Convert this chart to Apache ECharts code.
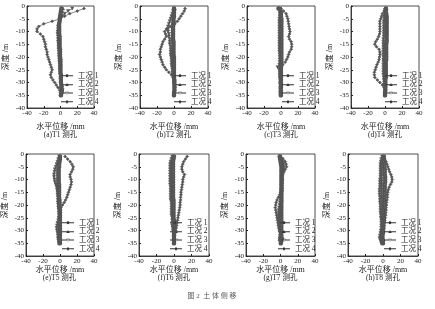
<!DOCTYPE html>
<html><head><meta charset="utf-8">
<script src="https://cdn.jsdelivr.net/npm/echarts@6/dist/echarts.min.js"></script>
<style>html,body{margin:0;padding:0;background:#fff}#c{width:435px;height:309px}</style>
</head><body><div id="c"></div>
<script>
const depth = [-1,-2,-3,-4,-5,-6,-7,-8,-9,-10,-11,-12,-13,-14,-15,-16,-17,-18,-19,-20,-21,-22,-23,-24,-25,-26,-27,-28,-29,-30,-31,-32,-33,-34,-35];
const legendNames = ['工况 1','工况 2','工况 3','工况 4'];
const xTicks = [-40,-20,0,20,40];
const panelLabels = ['(a)T1 测孔','(b)T2 测孔','(c)T3 测孔','(d)T4 测孔','(e)T5 测孔','(f)T6 测孔','(g)T7 测孔','(h)T8 测孔'];

// T1
const t1_1 = [1,0.5,0,-0.5,-1,-1,-1.5,-1.5,-1.5,-1.5,-1.5,-1,-1,-1,-1,-1,-0.5,-0.5,-0.5,-0.5,0,0,0,0,0,0,0.5,0.5,0.5,0.5,1,1,1.5,1,0.5];
const t1_2 = [3,2,1,0,-1,-1.5,-2,-2,-2.5,-2.5,-2.5,-2,-2,-2,-2,-1.5,-1.5,-1.5,-1,-1,-1,-0.5,-0.5,-0.5,0,0,0,0,0.5,0.5,1,1.5,2,1.5,0.5];
const t1_3 = [14,9,5,2,0,-1,-2,-3,-3,-3.5,-3.5,-3,-3,-3,-2.5,-2.5,-2.5,-2,-2,-2,-1.5,-1.5,-1,-1,-1,-0.5,-0.5,0,0,0.5,1,2,2.5,2,1];
const t1_4 = [28,20,11,5,0,-10,-20,-26,-28,-28,-24,-21,-20,-19,-18,-18,-17,-16,-16,-15,-14,-13,-12,-11,-10,-11,-12,-11,-9,-7,-5,-3,-1,0,0];
// T2
const t2_1 = [0,0,0,0,-0.5,-0.5,-0.5,-1,-1,-1,-1,-1,-1,-0.5,-0.5,-0.5,-0.5,-0.5,-0.5,0,0,0,0,0,0,0,0,0,0.5,0.5,0.5,0.5,0.5,0,0];
const t2_2 = [1,0.5,0,-0.5,-1,-1.5,-2,-2,-2,-2,-2,-2,-2,-2,-1.5,-1.5,-1.5,-1.5,-1.5,-1,-1,-1,-1,-1,-0.5,-0.5,-0.5,0,0,0,0.5,0.5,0.5,0,0];
const t2_3 = [0,-1,-2,-3,-4,-5,-6,-7,-7,-7,-6,-6,-5,-5,-5,-4,-4,-4,-4,-3.5,-3,-3,-3,-2.5,-2,-2,-1.5,-1,-0.5,0,0,0.5,0.5,0,0];
const t2_4 = [13,12,10,8,6,4,1,-4,-9,-11,-10,-9,-11,-13,-14,-15,-16,-16,-17,-16,-15,-14,-13,-11,-9,-6,-3,-1,0,0,0.5,1,1,0.5,0];
// T3
const t3_1 = [-3,-0.5,0,0,0.5,0.5,0.5,0.5,0.5,0.5,0.5,0.5,0.5,0.5,0.5,0.5,0.5,0.5,0.5,0.5,0.5,0.5,0.5,0,0,0,0,0,0,0,0,0,0,0,0];
const t3_2 = [-2,-1,-1,-1,-1,-1,-1,-1,-1,-1,-1,-1,-1,-1,-1,-1,-1,-1,-1,-1,-1,-1,-1,-1,-1,-1,-1,-0.5,-0.5,-0.5,-0.5,-0.5,-0.5,-0.5,-0.5];
const t3_3 = [-1,-1.5,-1.5,-1.5,-2,-2,-2,-2,-2,-2,-2,-2,-2,-2,-2,-2,-2,-2,-1.5,-1.5,-1.5,-1.5,-2,-4,-2,-1.5,-1.5,-1.5,-1,-1,-1,-1,-1,-1,-1];
const t3_4 = [0,3,6,7,8,8.5,9,9.5,10,10.5,10,9,10,12,12.5,12.5,12,10,9,8,6.5,5,2,0,-1,-1,-1,-1,-1,-1,-0.5,-0.5,-0.5,-0.5,-0.5];
// T4
const t4_1 = [1,1,1.5,2,2,2,2,2,2,2,2,2,2,2,1.5,1.5,1.5,1.5,1.5,1.5,1.5,1,1,1,1,1,1,1,0.5,0.5,0.5,0.5,0.5,0,0];
const t4_2 = [2,1.5,1,1,1,1,1,1,1,1,1,1,1,0.5,0.5,0.5,0.5,0.5,0.5,0.5,0.5,0.5,0.5,0,0,0,0,0,0,0,0,0,0,0,0];
const t4_3 = [1,0,-0.5,-1,-1,-1.5,-1.5,-1.5,-1.5,-1.5,-1.5,-1.5,-2,-2,-2,-2,-2,-2,-2,-2,-2,-2,-2,-2,-2,-2,-2,-1.5,-1.5,-1,-1,-0.5,0,0,0];
const t4_4 = [0,-1,-3,-4,-5,-6,-6,-6,-6,-6,-6.5,-7.5,-9,-11,-12,-10,-7,-6,-6,-6.5,-7,-8,-9.5,-10.5,-11.5,-12.5,-12.5,-12,-9,-6,-3,-1,0,0,0];
// T5
const t5_1 = [0,0,-0.5,-1,-1,-1.5,-1.5,-1.5,-1.5,-1.5,-1.5,-1,-1,-1,-1,-1,-1,-0.5,-0.5,-0.5,-0.5,0,0,0,0,0,0,0,0,0,0,0,0,0,0];
const t5_2 = [0,-1,-1.5,-2,-2.5,-3,-3,-3,-3,-3,-3,-3,-2.5,-2.5,-2.5,-2,-2,-2,-2,-1.5,-1.5,-1,-1,-1,-1,-1,-1.5,-1.5,-1.5,-1.5,-1.5,-1,-1,-1,-1];
const t5_3 = [-1,-2,-3,-4,-5,-6,-6.5,-7,-7,-6.5,-6,-5,-4,-3.5,-3,-3,-2.5,-2.5,-2.5,-2,-2,-1.5,-1.5,-1,-1.5,-2,-3,-3.5,-4,-3.5,-3,-2.5,-2.5,-2,-1.5];
const t5_4 = [6,9,12,14,15.5,15,13.5,12,12,13,13.5,13,12,11,10,9,8,6.5,5,3,1,0.5,0,0,-0.5,-0.5,-0.5,-0.5,-0.5,-0.5,-0.5,-0.5,-0.5,-0.5,-0.5];
// T6
const t6_1 = [0,-0.5,-1,-1,-1,-1,-1,-1,-1,-1,-1,-1,-1,-1,-1,-1,-1,-0.5,-0.5,-0.5,-0.5,-0.5,-0.5,-0.5,-0.5,0,0,0,0,0,0,0,0,0,0];
const t6_2 = [-1,-1.5,-2,-2,-2,-2.5,-2.5,-2.5,-2.5,-2.5,-2.5,-2.5,-2.5,-2,-2,-2,-2,-2,-2,-2,-1.5,-1.5,-1.5,-1.5,-1.5,-1,-1,-1,-1,-0.5,-0.5,-0.5,0,0,0];
const t6_3 = [-2,-3,-4,-4.5,-4.5,-4.5,-4.5,-4.5,-4.5,-4.5,-4.5,-4.5,-4,-4,-4,-4,-4,-4,-3,-3,-3,-3,-3,-3,-2,-2,-2,-2,-1.5,-1,-0.5,0,0,0,0];
const t6_4 = [15,13,11,10,9,9,10,12,11,10,10,9.5,9,8.5,8,8,7.5,7.5,7,7,6.5,6,5.5,5,4.5,4,3.5,3,2.5,2,1,0.5,0,0,0];
// T7
const t7_1 = [-1,-0.5,0,0.5,1,1,1,1,1,1,1,1,1,1,1,1,1,1,1,1,1,1,1,1,1,1,1,1,1,1,1,1,1.5,1,0.5];
const t7_2 = [-1,0,1,1.5,2,2,2,2,2,2,2,2,2,2,1.5,1.5,1.5,1.5,1,1,1,0.5,0.5,0.5,0,0,0,0,0,0,0,0.5,0.5,0.5,0];
const t7_3 = [0,1.5,3,3.5,4,3.5,3,2.5,2,2,2,1.5,1.5,1.5,1,1,0.5,0,-0.5,-1,-1.5,-2,-2,-2,-2,-2,-1.5,-1.5,-1,-1,-0.5,-0.5,-1,-0.5,0];
const t7_4 = [0,3,5.5,6.5,7,5.5,4,2.5,2,2,1.5,1,1,0.5,0,-1,-2.5,-4,-5,-5.5,-6,-5.5,-5,-4.5,-4,-3.5,-3,-2.5,-2,-1,0,0,-1,-1,0];
// T8
const t8_1 = [1,1,1,1.5,1.5,2,2,2,2.5,2.5,2.5,2,2,2,2,2,1.5,1.5,1.5,1.5,1.5,1,1,1,1,1,0.5,0.5,0.5,0,0,-0.5,-0.5,0,0];
const t8_2 = [0,-0.5,-1,-1,-1.5,-1.5,-1.5,-1.5,-1.5,-1.5,-1.5,-1.5,-1.5,-1.5,-1.5,-1.5,-1.5,-1,-1,-1,-1,-1,-1,-1,-1,-1,-1,-1,-1,-1,-1.5,-2,-2,-1.5,-1];
const t8_3 = [-1,-2,-2.5,-3,-3,-3,-3,-3,-3,-3.5,-3.5,-3.5,-3.5,-4,-4,-4,-3.5,-3.5,-3.5,-3,-3,-3,-3,-2.5,-2.5,-2,-2,-2,-2,-2.5,-3,-3.5,-4,-3,-2];
const t8_4 = [1,2,3.5,4.5,5.5,6.5,7.5,9,10,10.5,10,8.5,7,6,5.5,5,5,4.5,4,4,3.5,3.5,3,3,2.5,2,1.5,1,0.5,0,-1,-2,-2,-1.5,-1];

const panels = [
  [t1_1,t1_2,t1_3,t1_4],[t2_1,t2_2,t2_3,t2_4],[t3_1,t3_2,t3_3,t3_4],[t4_1,t4_2,t4_3,t4_4],
  [t5_1,t5_2,t5_3,t5_4],[t6_1,t6_2,t6_3,t6_4],[t7_1,t7_2,t7_3,t7_4],[t8_1,t8_2,t8_3,t8_4]
];

const FONT = "'Liberation Serif','Noto Sans CJK SC',serif";
const TXT = '#222';
const layout = [
  {l:27,t:6,w:67},{l:140,t:6,w:68},{l:247,t:6,w:68},{l:351,t:6,w:68},
  {l:25,t:154,w:69},{l:139,t:154,w:70},{l:246,t:154,w:69},{l:348,t:154,w:70}
];
const legendPos = [
  {l:61,t:72},{l:174,t:72},{l:282,t:72},{l:385,t:72},
  {l:62,t:219},{l:170,t:219},{l:278,t:219},{l:384,t:219}
];
const symbols = ['emptyCircle','triangle','triangle','diamond'];
const rotates = [0,0,180,0];
const sizes = [2.5,3,3,3];
const LINE = 'M0,1.5L12,1.5L12,2.5L0,2.5Z';
const legendIcons = [
  'path://' + LINE + 'M7.4,2A1.4,1.4,0,1,1,4.6,2A1.4,1.4,0,1,1,7.4,2Z',
  'path://' + LINE + 'M6,0.3L7.7,3.3L4.3,3.3Z',
  'path://' + LINE + 'M6,3.7L7.7,0.7L4.3,0.7Z',
  'path://' + LINE + 'M6,0.1L7.6,2L6,3.9L4.4,2Z'
];

const grid=[], xAxis=[], yAxis=[], series=[], legend=[], title=[];
layout.forEach((g,i)=>{
  const row2 = i>=4;
  grid.push({left:g.l, top:g.t, width:g.w, height:102, show:true, borderColor:'#222', borderWidth:0.8, containLabel:false});
  xAxis.push({gridIndex:i, type:'value', min:xTicks[0], max:xTicks[xTicks.length-1], interval:20,
    name:'水平位移 /mm', nameLocation:'middle', nameGap: row2?10:15,
    nameTextStyle:{fontFamily:FONT, fontSize:8, color:TXT},
    axisLine:{show:true, onZero:false, lineStyle:{color:'#222',width:0.8}},
    axisTick:{show:true, inside:true, length:2, lineStyle:{color:'#222'}},
    axisLabel:{fontFamily:FONT, fontSize:7, color:TXT, margin:2},
    splitLine:{show:false}});
  yAxis.push({gridIndex:i, type:'value', min:-40, max:0, interval:5,
    name:'深度 /m', nameLocation:'middle', nameGap:17, nameRotate:90,
    nameTextStyle:{fontFamily:FONT, fontSize:8, color:TXT},
    axisLine:{show:true, onZero:false, lineStyle:{color:'#222',width:0.8}},
    axisTick:{show:true, inside:true, length:2, lineStyle:{color:'#222'}},
    axisLabel:{fontFamily:FONT, fontSize:7, color:TXT, margin:2},
    splitLine:{show:false}});
  panels[i].forEach((arr,k)=>{
    series.push({type:'line', name:legendNames[k], xAxisIndex:i, yAxisIndex:i,
      data: depth.map((d,j)=>[arr[j], d]),
      symbol:symbols[k], symbolRotate:rotates[k], symbolSize:sizes[k], showSymbol:true,
      lineStyle:{color:'#555', width:0.7}, itemStyle:{color:'#555', borderColor:'#555', borderWidth:0.6},
      emphasis:{disabled:true}, animation:false, z:2+k});
  });
  legend.push({data:legendNames.map((n,k)=>({name:n, icon:legendIcons[k]})),
    orient:'vertical', left:legendPos[i].l, top:legendPos[i].t,
    itemWidth:12, itemHeight:4, itemGap:1.2, padding:0, selectedMode:false,
    itemStyle:{color:'#333', borderWidth:0},
    textStyle:{fontFamily:FONT, fontSize:7.5, color:TXT}});
  title.push({text:panelLabels[i], left:g.l+g.w/2, top: row2?274:131, textAlign:'center', padding:0,
    textStyle:{fontFamily:FONT, fontSize:7.5, fontWeight:'normal', color:TXT}});
});
title.push({text:'图 2  土 体 侧 移', left:212, top:293, textAlign:'center', padding:0,
  textStyle:{fontFamily:FONT, fontSize:7, fontWeight:'normal', color:'#555'}});

const chart = echarts.init(document.getElementById('c'), null, {renderer:'canvas'});
chart.setOption({animation:false, backgroundColor:'#fff', grid, xAxis, yAxis, series, legend, title});
</script></body></html>
